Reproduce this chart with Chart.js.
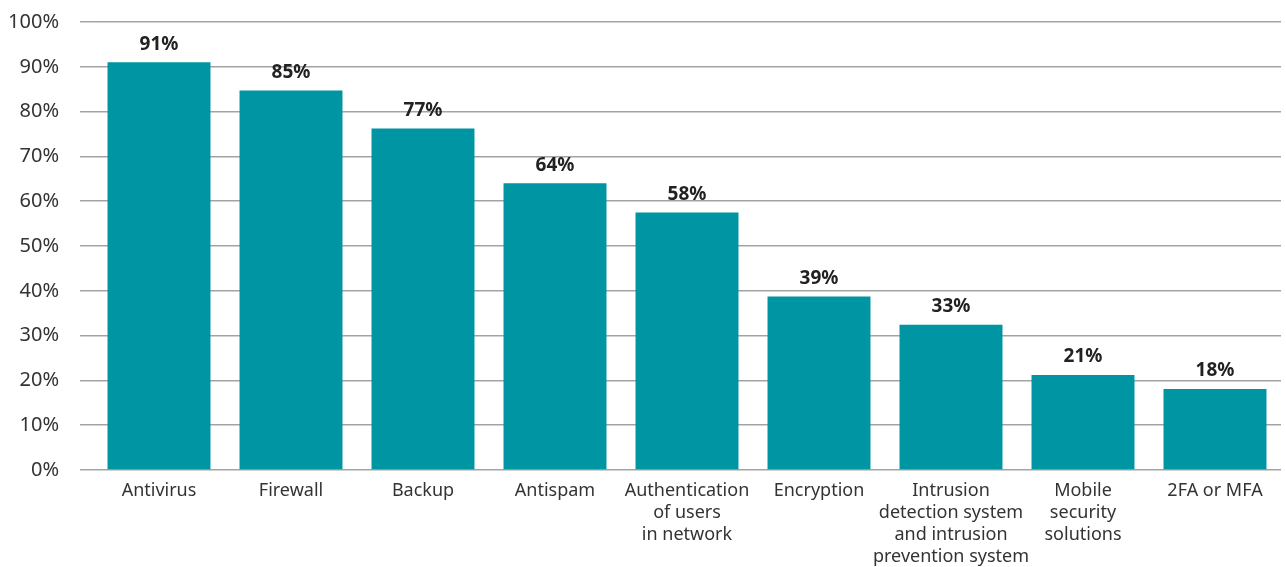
<!DOCTYPE html>
<html>
<head>
<meta charset="utf-8">
<script src="https://cdn.jsdelivr.net/npm/chart.js@4/dist/chart.umd.min.js"></script>
<style>
    body { margin: 0; background: #fff; }
    #wrap { width: 1286px; height: 567px; position: relative; }
</style>
</head>
<body>
<div id="wrap"><canvas id="chart"></canvas></div>
<script>
// data
let categories = [
    'Antivirus',
    'Firewall',
    'Backup',
    'Antispam',
    ['Authentication', 'of users', 'in network'],
    'Encryption',
    ['Intrusion', 'detection system', 'and intrusion', 'prevention system'],
    ['Mobile', 'security', 'solutions'],
    '2FA or MFA'
];
let shares      = [91, 84.7, 76.2, 64, 57.5, 38.7, 32.4, 21.2, 18.1];
let shareLabels = ['91%', '85%', '77%', '64%', '58%', '39%', '33%', '21%', '18%'];
let yTicks      = [0, 10, 20, 30, 40, 50, 60, 70, 80, 90, 100];

let barColor  = 'rgb(0,149,162)';
let gridColor = 'rgb(160,164,168)';
let textColor = 'rgb(51,51,51)';
let fontName  = '"Noto Sans", sans-serif';

// draws the bold value above each bar
let valueLabels = {
    id : 'valueLabels',
    afterDatasetsDraw : ( chart ) => {
        let ctx  = chart.ctx;
        let bars = chart.getDatasetMeta( 0 ).data;
        ctx.save();
        ctx.font = 'bold 19px ' + fontName;
        ctx.fillStyle = 'rgb(34,34,34)';
        ctx.textAlign = 'center';
        ctx.textBaseline = 'middle';
        bars.forEach( ( bar, i ) => {
            ctx.fillText( shareLabels[i], bar.x, bar.y - 18 );
        } );
        ctx.restore();
    }
};

let ctx = document.getElementById( 'chart' ).getContext( '2d' );
let chart = new Chart( ctx, {
    type : 'bar',
    data : {
        labels : categories,
        datasets : [{
            data : shares,
            backgroundColor : barColor,
            borderWidth : 0,
            categoryPercentage : 1,
            barPercentage : 0.78
        }]
    },
    options : {
        responsive : true,
        maintainAspectRatio : false,
        animation : false,
        layout : {
            padding : { top : 22, right : 5, left : 0, bottom : 0 }
        },
        plugins : {
            legend : { display : false },
            tooltip : { enabled : false }
        },
        scales : {
            x : {
                grid : { display : false },
                border : { display : false },
                ticks : {
                    color : textColor,
                    font : { family : fontName, size : 18, lineHeight : 1.22 },
                    padding : 2,
                    maxRotation : 0,
                    autoSkip : false
                },
                afterFit : ( scale ) => { scale.height = 97; }
            },
            y : {
                min : 0,
                max : 100,
                border : { display : false },
                grid : {
                    color : gridColor,
                    lineWidth : 1.5,
                    drawTicks : true,
                    tickLength : 13
                },
                ticks : {
                    color : textColor,
                    font : { family : fontName, size : 20 },
                    padding : 21,
                    stepSize : 10,
                    callback : ( value ) => yTicks.includes( value ) ? value + '%' : ''
                },
                afterFit : ( scale ) => {
                    // fixed width, and no extra room kept above/below for the labels
                    scale.width = 93;
                    scale.paddingTop = 0;
                    scale.paddingBottom = 0;
                }
            }
        }
    },
    plugins : [ valueLabels ]
} );
</script>
</body>
</html>
